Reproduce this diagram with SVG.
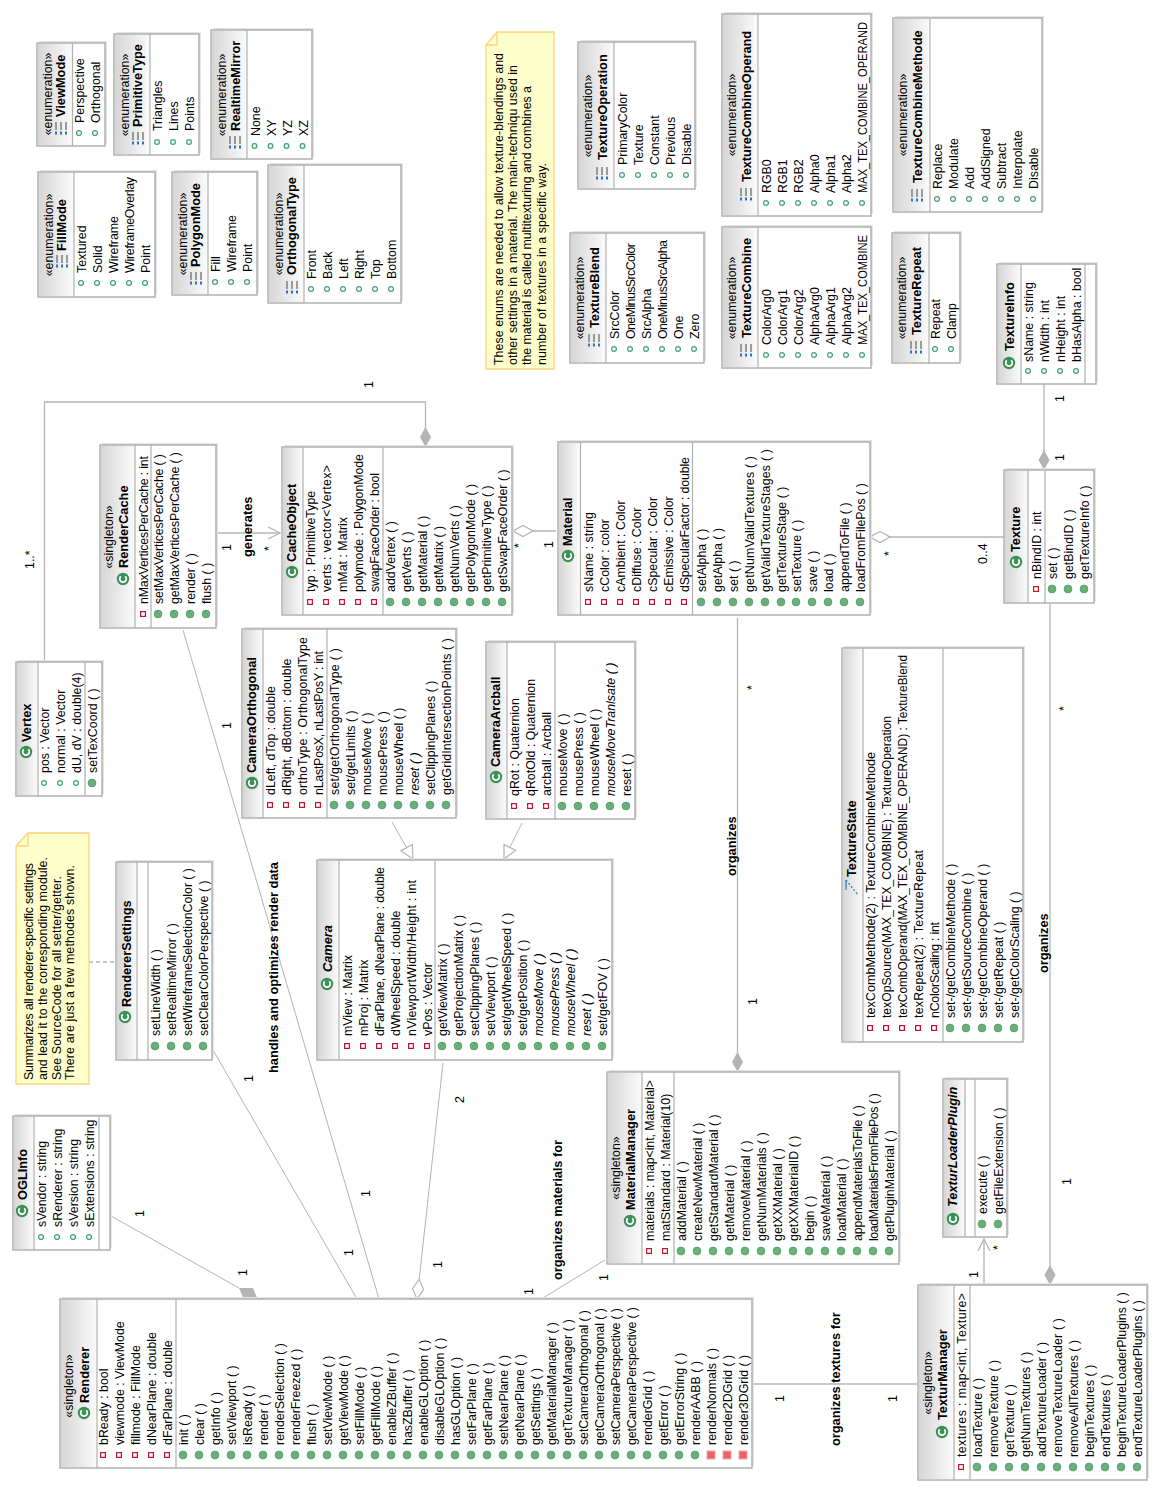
<svg xmlns="http://www.w3.org/2000/svg" width="1160" height="1491" viewBox="0 0 1160 1491">
<style>
text{font-family:"Liberation Sans",Arial,sans-serif;font-size:12.4px;fill:#000}
.b{font-weight:bold;font-size:12.8px}
.bi{font-weight:bold;font-style:italic;font-size:12.8px}
.i{font-style:italic}
.mid{text-anchor:middle}
.sh{fill:#e4e4e4}
.bx{fill:#fff;stroke:#b0b0b0;stroke-width:1.5}
.hd{fill:url(#hg)}
.dv{stroke:#b0b0b0;stroke-width:1.2;fill:none}
.c{fill:none;stroke:#b4b4b4;stroke-width:1.3}
.d{stroke-width:1}
.fd{marker-end:url(#dF)}
.hl{marker-end:url(#dH)}
.ar{marker-end:url(#aO)}
.tr{marker-end:url(#tH)}
.dash{stroke-dasharray:4 3}
.nt{fill:#ffffcc;stroke:#fdd27a;stroke-width:1.3}
.nf{fill:none;stroke:#fdd27a;stroke-width:1.3}
</style>
<defs>
<linearGradient id="hg" x1="0" y1="0" x2="0" y2="1"><stop offset="0" stop-color="#d6d6d6"/><stop offset="1" stop-color="#fbfbfb"/></linearGradient>
<marker id="dF" markerUnits="userSpaceOnUse" markerWidth="22" markerHeight="13" viewBox="0 0 22 13" refX="21" refY="6.5" orient="auto"><path d="M1 6.5L11 1L21 6.5L11 12Z" fill="#b4b4b4"/></marker>
<marker id="dH" markerUnits="userSpaceOnUse" markerWidth="22" markerHeight="13" viewBox="0 0 22 13" refX="21" refY="6.5" orient="auto"><path d="M1 6.5L11 1L21 6.5L11 12Z" fill="#fff" stroke="#b4b4b4" stroke-width="1.2"/></marker>
<marker id="aO" markerUnits="userSpaceOnUse" markerWidth="15" markerHeight="15" viewBox="0 0 15 15" refX="14" refY="7.5" orient="auto"><path d="M2 1.5L14 7.5L2 13.5" fill="none" stroke="#b4b4b4" stroke-width="1.3"/></marker>
<marker id="tH" markerUnits="userSpaceOnUse" markerWidth="15" markerHeight="17" viewBox="0 0 15 17" refX="14" refY="8.5" orient="auto"><path d="M1 2L14 8.5L1 15Z" fill="#fff" stroke="#b4b4b4" stroke-width="1.2"/></marker>
<g id="C"><circle r="6.2" fill="#3c9055"/><path d="M2.6-2.2A3.3 3.3 0 1 0 2.6 2.2" fill="none" stroke="#fff" stroke-width="1.7"/></g>
<circle id="m" r="3.9" fill="#6bae7a" stroke="#4f9c66" stroke-width=".8"/>
<circle id="p" r="2.4" fill="#fff" stroke="#3fa56e" stroke-width="1.2"/>
<rect id="f" x="-2.4" y="-2.4" width="4.8" height="4.8" fill="#fff" stroke="#c4122f" stroke-width="1.2"/>
<rect id="r" x="-4" y="-4" width="8" height="8" fill="#e8646c" stroke="#f2a4a8"/>
<g id="E" fill="none"><path d="M6-5H-2M6 0H-2M6 5H-2" stroke="#777" stroke-width="1.4"/><path d="M-3.500-5H-6.500M-3.500 0H-6.500M-3.500 5H-6.500" stroke="#2f74bd" stroke-width="2"/></g>
</defs>

<g id="connectors">
<polyline class="c fd" points="44.5,662 44.5,402 425.5,402 425.5,447"/>
<line class="c ar" x1="216" y1="533" x2="280" y2="533"/>
<line class="c hl" x1="556" y1="531" x2="513" y2="531"/>
<line class="c hl" x1="1004" y1="537" x2="870" y2="537"/>
<line class="c fd" x1="1044" y1="384" x2="1044" y2="470"/>
<line class="c fd" x1="1050" y1="604" x2="1050" y2="1285"/>
<line class="c fd" x1="737.5" y1="618" x2="737.5" y2="1072"/>
<line class="c d" x1="183" y1="630" x2="379" y2="1299"/>
<line class="c d" x1="213" y1="1050" x2="357" y2="1299"/>
<line class="c d" x1="111" y1="1216" x2="239" y2="1288"/>
<polygon points="239,1288 253,1288 258,1300 244,1300" fill="#b4b4b4"/>
<line class="c d hl" x1="443" y1="1063" x2="417" y2="1299"/>
<line class="c d" x1="605" y1="1260" x2="543" y2="1298"/>
<line class="c" x1="752" y1="1384" x2="917" y2="1384"/>
<line class="c ar" x1="984" y1="1285" x2="984" y2="1239"/>
<line class="c d tr" x1="392" y1="822" x2="413" y2="859"/>
<line class="c d tr" x1="522" y1="823" x2="504" y2="859"/>
<line class="c dash" x1="89" y1="962" x2="115" y2="962"/>
<text transform="translate(373 388) rotate(-90)">1</text>
<text transform="translate(34 569) rotate(-90)">1..*</text>
<text transform="translate(231 551) rotate(-90)">1</text>
<text class="b" transform="translate(252 557) rotate(-90)">generates</text>
<text transform="translate(273 551) rotate(-90)">*</text>
<text transform="translate(523 548) rotate(-90)">*</text>
<text transform="translate(553 548) rotate(-90)">1</text>
<text transform="translate(893 556) rotate(-90)">*</text>
<text transform="translate(987 564) rotate(-90)">0..4</text>
<text transform="translate(1064 402) rotate(-90)">1</text>
<text transform="translate(1064 461) rotate(-90)">1</text>
<text transform="translate(1068 711) rotate(-90)">*</text>
<text class="b" transform="translate(1048 973) rotate(-90)">organizes</text>
<text transform="translate(1071 1185) rotate(-90)">1</text>
<text transform="translate(756 690) rotate(-90)">*</text>
<text transform="translate(757 1005) rotate(-90)">1</text>
<text class="b" transform="translate(736 876) rotate(-90)">organizes</text>
<text transform="translate(231 729) rotate(-90)">1</text>
<text transform="translate(353 1256) rotate(-90)">1</text>
<text transform="translate(370 1197) rotate(-90)">1</text>
<text transform="translate(253 1082) rotate(-90)">1</text>
<text class="b" transform="translate(278 1073) rotate(-90)" textLength="211">handles and optimizes render data</text>
<text transform="translate(144 1217) rotate(-90)">1</text>
<text transform="translate(247 1276) rotate(-90)">1</text>
<text transform="translate(464 1103) rotate(-90)">2</text>
<text transform="translate(442 1268) rotate(-90)">1</text>
<text transform="translate(533 1295) rotate(-90)">1</text>
<text transform="translate(608 1281) rotate(-90)">1</text>
<text class="b" transform="translate(562 1280) rotate(-90)">organizes materials for</text>
<text transform="translate(784 1402) rotate(-90)">1</text>
<text transform="translate(897 1402) rotate(-90)">1</text>
<text class="b" transform="translate(840 1446) rotate(-90)">organizes textures for</text>
<text transform="translate(1002 1250) rotate(-90)">*</text>
<text transform="translate(978 1278) rotate(-90)">1</text>
</g>

<g id="ViewMode" transform="translate(37 146) rotate(-90)">
<rect class="sh" x="2" y="2" width="103" height="68"/><rect class="bx" width="103" height="68"/><rect class="hd" x="1" y="1" width="101" height="35"/><path class="dv" d="M0 35.5H103"/>
<text class="mid" x="52" y="15">«enumeration»</text><use href="#E" x="18" y="24"/><text class="b" x="29" y="28">ViewMode</text>
<use href="#p" x="13" y="42"/><text x="23" y="47">Perspective</text>
<use href="#p" x="13" y="58"/><text x="23" y="63">Orthogonal</text>
</g>
<g id="PrimitiveType" transform="translate(114 155) rotate(-90)">
<rect class="sh" x="2" y="2" width="121" height="85"/><rect class="bx" width="121" height="85"/><rect class="hd" x="1" y="1" width="119" height="35"/><path class="dv" d="M0 36H121"/>
<text class="mid" x="60" y="15">«enumeration»</text><use href="#E" x="17" y="24"/><text class="b" x="28" y="28">PrimitiveType</text>
<use href="#p" x="13" y="43"/><text x="24" y="48">Triangles</text>
<use href="#p" x="13" y="59"/><text x="24" y="64">Lines</text>
<use href="#p" x="13" y="75"/><text x="24" y="80">Points</text>
</g>
<g id="RealtimeMirror" transform="translate(211 159) rotate(-90)">
<rect class="sh" x="2" y="2" width="129" height="101"/><rect class="bx" width="129" height="101"/><rect class="hd" x="1" y="1" width="127" height="35"/><path class="dv" d="M0 36H129"/>
<text class="mid" x="64" y="15">«enumeration»</text><use href="#E" x="17" y="24"/><text class="b" x="28" y="29">RealtimeMirror</text>
<use href="#p" x="13" y="43.5"/><text x="23" y="48.5">None</text>
<use href="#p" x="13" y="59.5"/><text x="23" y="64.5">XY</text>
<use href="#p" x="13" y="75.5"/><text x="23" y="80.5">YZ</text>
<use href="#p" x="13" y="91.5"/><text x="23" y="96.5">XZ</text>
</g>
<g id="FillMode" transform="translate(38 297) rotate(-90)">
<rect class="sh" x="2" y="2" width="125" height="117"/><rect class="bx" width="125" height="117"/><rect class="hd" x="1" y="1" width="123" height="35"/><path class="dv" d="M0 36H125"/>
<text class="mid" x="62" y="15">«enumeration»</text><use href="#E" x="36" y="24"/><text class="b" x="46" y="28">FillMode</text>
<use href="#p" x="14" y="43"/><text x="24" y="48">Textured</text>
<use href="#p" x="14" y="59"/><text x="24" y="64">Solid</text>
<use href="#p" x="14" y="75"/><text x="24" y="80" textLength="57">Wireframe</text>
<use href="#p" x="14" y="91"/><text x="24" y="96" textLength="96">WireframeOverlay</text>
<use href="#p" x="14" y="107"/><text x="24" y="112">Point</text>
</g>
<g id="PolygonMode" transform="translate(172 295) rotate(-90)">
<rect class="sh" x="2" y="2" width="123" height="85"/><rect class="bx" width="123" height="85"/><rect class="hd" x="1" y="1" width="121" height="35"/><path class="dv" d="M0 36H123"/>
<text class="mid" x="61" y="15">«enumeration»</text><use href="#E" x="17" y="24"/><text class="b" x="28" y="28">PolygonMode</text>
<use href="#p" x="13" y="43"/><text x="23" y="48">Fill</text>
<use href="#p" x="13" y="59"/><text x="23" y="64" textLength="57">Wireframe</text>
<use href="#p" x="13" y="75"/><text x="23" y="80">Point</text>
</g>
<g id="OrthogonalType" transform="translate(268 303) rotate(-90)">
<rect class="sh" x="2" y="2" width="138" height="133"/><rect class="bx" width="138" height="133"/><rect class="hd" x="1" y="1" width="136" height="35"/><path class="dv" d="M0 36H138"/>
<text class="mid" x="69" y="15">«enumeration»</text><use href="#E" x="16" y="24"/><text class="b" x="28" y="28">OrthogonalType</text>
<use href="#p" x="14" y="43"/><text x="24" y="48">Front</text>
<use href="#p" x="14" y="59"/><text x="24" y="64">Back</text>
<use href="#p" x="14" y="75"/><text x="24" y="80">Left</text>
<use href="#p" x="14" y="91"/><text x="24" y="96">Right</text>
<use href="#p" x="14" y="107"/><text x="24" y="112">Top</text>
<use href="#p" x="14" y="123"/><text x="24" y="128">Bottom</text>
</g>

<g id="Note1" transform="translate(486 369) rotate(-90)">
<path class="nt" d="M0 0V68H337V11L324 0Z"/><path class="nf" d="M324 0V11H337"/>
<text x="4" y="16.500" textLength="312">These enums are needed to allow texture-blendings and</text>
<text x="4" y="31" textLength="300">other settings in a material. The main-techniqu used in</text>
<text x="4" y="45" textLength="279">the material is called multitexturing and combines a</text>
<text x="4" y="60" textLength="202">number of textures in a specific way.</text>
</g>
<g id="TextureOperation" transform="translate(578 189) rotate(-90)">
<rect class="sh" x="2" y="2" width="147" height="117"/><rect class="bx" width="147" height="117"/><rect class="hd" x="1" y="1" width="145" height="35"/><path class="dv" d="M0 36H147"/>
<text class="mid" x="73" y="14">«enumeration»</text><use href="#E" x="16" y="24"/><text class="b" x="29" y="29">TextureOperation</text>
<use href="#p" x="14" y="44"/><text x="24" y="49">PrimaryColor</text>
<use href="#p" x="14" y="60"/><text x="24" y="65">Texture</text>
<use href="#p" x="14" y="76"/><text x="24" y="81">Constant</text>
<use href="#p" x="14" y="92"/><text x="24" y="97">Previous</text>
<use href="#p" x="14" y="108"/><text x="24" y="113">Disable</text>
</g>
<g id="TextureBlend" transform="translate(570 363) rotate(-90)">
<rect class="sh" x="2" y="2" width="130" height="134"/><rect class="bx" width="130" height="134"/><rect class="hd" x="1" y="1" width="128" height="35"/><path class="dv" d="M0 36H130"/>
<text class="mid" x="65" y="14">«enumeration»</text><use href="#E" x="23" y="24"/><text class="b" x="35" y="29">TextureBlend</text>
<use href="#p" x="14" y="44"/><text x="24" y="49">SrcColor</text>
<use href="#p" x="14" y="60"/><text x="24" y="65" textLength="96">OneMinusSrcColor</text>
<use href="#p" x="14" y="76"/><text x="24" y="81">SrcAlpha</text>
<use href="#p" x="14" y="92"/><text x="24" y="97" textLength="99">OneMinusSrcAlpha</text>
<use href="#p" x="14" y="108"/><text x="24" y="113">One</text>
<use href="#p" x="14" y="124"/><text x="24" y="129">Zero</text>
</g>
<g id="TextureCombineOperand" transform="translate(722 216) rotate(-90)">
<rect class="sh" x="2" y="2" width="202" height="149"/><rect class="bx" width="202" height="149"/><rect class="hd" x="1" y="1" width="200" height="35"/><path class="dv" d="M0 36H202"/>
<text class="mid" x="101" y="14">«enumeration»</text><use href="#E" x="22" y="24"/><text class="b" x="34" y="29" textLength="151">TextureCombineOperand</text>
<use href="#p" x="13" y="44"/><text x="23" y="49">RGB0</text>
<use href="#p" x="13" y="60"/><text x="23" y="65">RGB1</text>
<use href="#p" x="13" y="76"/><text x="23" y="81">RGB2</text>
<use href="#p" x="13" y="92"/><text x="23" y="97">Alpha0</text>
<use href="#p" x="13" y="108"/><text x="23" y="113">Alpha1</text>
<use href="#p" x="13" y="124"/><text x="23" y="129">Alpha2</text>
<use href="#p" x="13" y="140"/><text x="23" y="145" textLength="171" lengthAdjust="spacingAndGlyphs">MAX_TEX_COMBINE_OPERAND</text>
</g>
<g id="TextureCombine" transform="translate(722 368) rotate(-90)">
<rect class="sh" x="2" y="2" width="141" height="149"/><rect class="bx" width="141" height="149"/><rect class="hd" x="1" y="1" width="139" height="35"/><path class="dv" d="M0 36H141"/>
<text class="mid" x="70" y="14">«enumeration»</text><use href="#E" x="18" y="24"/><text class="b" x="30" y="29">TextureCombine</text>
<use href="#p" x="13" y="44"/><text x="23" y="49">ColorArg0</text>
<use href="#p" x="13" y="60"/><text x="23" y="65">ColorArg1</text>
<use href="#p" x="13" y="76"/><text x="23" y="81">ColorArg2</text>
<use href="#p" x="13" y="92"/><text x="23" y="97">AlphaArg0</text>
<use href="#p" x="13" y="108"/><text x="23" y="113">AlphaArg1</text>
<use href="#p" x="13" y="124"/><text x="23" y="129">AlphaArg2</text>
<use href="#p" x="13" y="140"/><text x="23" y="145" textLength="110" lengthAdjust="spacingAndGlyphs">MAX_TEX_COMBINE</text>
</g>
<g id="TextureCombineMethode" transform="translate(893 212) rotate(-90)">
<rect class="sh" x="2" y="2" width="194" height="149"/><rect class="bx" width="194" height="149"/><rect class="hd" x="1" y="1" width="192" height="36"/><path class="dv" d="M0 37H194"/>
<text class="mid" x="97" y="14">«enumeration»</text><use href="#E" x="17" y="24"/><text class="b" x="29" y="29">TextureCombineMethode</text>
<use href="#p" x="13" y="44"/><text x="23" y="49">Replace</text>
<use href="#p" x="13" y="60"/><text x="23" y="65">Modulate</text>
<use href="#p" x="13" y="76"/><text x="23" y="81">Add</text>
<use href="#p" x="13" y="92"/><text x="23" y="97">AddSigned</text>
<use href="#p" x="13" y="108"/><text x="23" y="113">Subtract</text>
<use href="#p" x="13" y="124"/><text x="23" y="129">Interpolate</text>
<use href="#p" x="13" y="140"/><text x="23" y="145">Disable</text>
</g>
<g id="TextureRepeat" transform="translate(892 363) rotate(-90)">
<rect class="sh" x="2" y="2" width="130" height="68"/><rect class="bx" width="130" height="68"/><rect class="hd" x="1" y="1" width="128" height="36"/><path class="dv" d="M0 37H130"/>
<text class="mid" x="65" y="14">«enumeration»</text><use href="#E" x="16" y="24"/><text class="b" x="28" y="29">TextureRepeat</text>
<use href="#p" x="14" y="43"/><text x="24" y="48">Repeat</text>
<use href="#p" x="14" y="59"/><text x="24" y="64">Clamp</text>
</g>
<g id="TextureInfo" transform="translate(997 384) rotate(-90)">
<rect class="sh" x="2" y="2" width="120" height="99"/><rect class="bx" width="120" height="99"/><rect class="hd" x="1" y="1" width="118" height="23"/><path class="dv" d="M0 24H120M0 88H120"/>
<use href="#C" x="21" y="12"/><text class="b" x="33" y="17">TextureInfo</text>
<use href="#p" x="13" y="31"/><text x="22" y="36">sName : string</text>
<use href="#p" x="13" y="47"/><text x="22" y="52">nWidth : int</text>
<use href="#p" x="13" y="63"/><text x="22" y="68">nHeight : int</text>
<use href="#p" x="13" y="79"/><text x="22" y="84">bHasAlpha : bool</text>
</g>
<g id="Texture" transform="translate(1004 603) rotate(-90)">
<rect class="sh" x="2" y="2" width="133" height="90"/><rect class="bx" width="133" height="90"/><rect class="hd" x="1" y="1" width="131" height="23"/><path class="dv" d="M0 24H133M0 41H133"/>
<use href="#C" x="41" y="12"/><text class="b" x="51" y="16">Texture</text>
<use href="#f" x="14" y="32"/><text x="24" y="37">nBindID : int</text>
<use href="#m" x="14" y="48"/><text x="24" y="53">set ( )</text>
<use href="#m" x="14" y="64"/><text x="24" y="69">getBindID ( )</text>
<use href="#m" x="14" y="80"/><text x="24" y="85">getTextureInfo ( )</text>
</g>
<g id="Material" transform="translate(558 615) rotate(-90)">
<rect class="sh" x="2" y="2" width="173" height="312"/><rect class="bx" width="173" height="312"/><rect class="hd" x="1" y="1" width="171" height="21"/><path class="dv" d="M0 22.500H173M0 134.500H173"/>
<use href="#C" x="59" y="10"/><text class="b" x="69" y="14">Material</text>
<use href="#f" x="13" y="30"/><text x="23" y="35">sName : string</text>
<use href="#f" x="13" y="46"/><text x="23" y="51">cColor : color</text>
<use href="#f" x="13" y="62"/><text x="23" y="67">cAmbient : Color</text>
<use href="#f" x="13" y="78"/><text x="23" y="83">cDiffuse : Color</text>
<use href="#f" x="13" y="94"/><text x="23" y="99">cSpecular : Color</text>
<use href="#f" x="13" y="110"/><text x="23" y="115">cEmissive : Color</text>
<use href="#f" x="13" y="126"/><text x="23" y="131" textLength="135">dSpecularFactor : double</text>
<use href="#m" x="13" y="143"/><text x="23" y="148">setAlpha ( )</text>
<use href="#m" x="13" y="159"/><text x="23" y="164">getAlpha ( )</text>
<use href="#m" x="13" y="175"/><text x="23" y="180">set ( )</text>
<use href="#m" x="13" y="191"/><text x="23" y="196" textLength="136">getNumValidTextures ( )</text>
<use href="#m" x="13" y="207"/><text x="23" y="212" textLength="143">getValidTextureStages ( )</text>
<use href="#m" x="13" y="223"/><text x="23" y="228">getTextureStage ( )</text>
<use href="#m" x="13" y="238"/><text x="23" y="243">setTexture ( )</text>
<use href="#m" x="13" y="254"/><text x="23" y="259">save ( )</text>
<use href="#m" x="13" y="270"/><text x="23" y="275">load ( )</text>
<use href="#m" x="13" y="286"/><text x="23" y="291">appendToFile ( )</text>
<use href="#m" x="13" y="302"/><text x="23" y="307">loadFromFilePos ( )</text>
</g>
<g id="CacheObject" transform="translate(282 615) rotate(-90)">
<rect class="sh" x="2" y="2" width="168" height="230"/><rect class="bx" width="168" height="230"/><rect class="hd" x="1" y="1" width="166" height="20"/><path class="dv" d="M0 21H168M0 101H168"/>
<use href="#C" x="43" y="10"/><text class="b" x="53" y="14">CacheObject</text>
<use href="#f" x="13" y="28"/><text x="23" y="33">typ : PrimitiveType</text>
<use href="#f" x="13" y="44"/><text x="23" y="49" textLength="127">verts : vector&lt;Vertex&gt;</text>
<use href="#f" x="13" y="60"/><text x="23" y="65">mMat : Matrix</text>
<use href="#f" x="13" y="76"/><text x="23" y="81" textLength="138">polymode : PolygonMode</text>
<use href="#f" x="13" y="92"/><text x="23" y="97" textLength="119">swapFaceOrder : bool</text>
<use href="#m" x="13" y="108"/><text x="23" y="113">addVertex ( )</text>
<use href="#m" x="13" y="124"/><text x="23" y="129">getVerts ( )</text>
<use href="#m" x="13" y="140"/><text x="23" y="145">getMaterial ( )</text>
<use href="#m" x="13" y="156"/><text x="23" y="161">getMatrix ( )</text>
<use href="#m" x="13" y="172"/><text x="23" y="177">getNumVerts ( )</text>
<use href="#m" x="13" y="188"/><text x="23" y="193">getPolygonMode ( )</text>
<use href="#m" x="13" y="204"/><text x="23" y="209">getPrimitiveType ( )</text>
<use href="#m" x="13" y="220"/><text x="23" y="225">getSwapFaceOrder ( )</text>
</g>
<g id="RenderCache" transform="translate(100 628) rotate(-90)">
<rect class="sh" x="2" y="2" width="183" height="116"/><rect class="bx" width="183" height="116"/><rect class="hd" x="1" y="1" width="181" height="34"/><path class="dv" d="M0 35H183M0 51H183"/>
<text class="mid" x="91" y="13">«singleton»</text><use href="#C" x="49" y="23"/><text class="b" x="60" y="28">RenderCache</text>
<use href="#f" x="14" y="43"/><text x="24" y="48" textLength="148">nMaxVerticesPerCache : int</text>
<use href="#m" x="14" y="58"/><text x="24" y="63" textLength="150">setMaxVerticesPerCache ( )</text>
<use href="#m" x="14" y="74"/><text x="24" y="79" textLength="152">getMaxVerticesPerCache ( )</text>
<use href="#m" x="14" y="90"/><text x="24" y="95">render ( )</text>
<use href="#m" x="14" y="106"/><text x="24" y="111">flush ( )</text>
</g>
<g id="Vertex" transform="translate(16 796) rotate(-90)">
<rect class="sh" x="2" y="2" width="134" height="86"/><rect class="bx" width="134" height="86"/><rect class="hd" x="1" y="1" width="132" height="21"/><path class="dv" d="M0 22H134M0 69H134"/>
<use href="#C" x="44" y="10"/><text class="b" x="54" y="15">Vertex</text>
<use href="#p" x="13" y="28"/><text x="23" y="33">pos : Vector</text>
<use href="#p" x="13" y="44"/><text x="23" y="49">normal : Vector</text>
<use href="#p" x="13" y="60"/><text x="23" y="65">dU, dV : double(4)</text>
<use href="#m" x="13" y="76"/><text x="23" y="81">setTexCoord ( )</text>
</g>
<g id="CameraOrthogonal" transform="translate(242 818) rotate(-90)">
<rect class="sh" x="2" y="2" width="189" height="214"/><rect class="bx" width="189" height="214"/><rect class="hd" x="1" y="1" width="187" height="20"/><path class="dv" d="M0 21H189M0 85H189"/>
<use href="#C" x="35" y="10"/><text class="b" x="45" y="14">CameraOrthogonal</text>
<use href="#f" x="13" y="28"/><text x="23" y="33">dLeft, dTop : double</text>
<use href="#f" x="13" y="44"/><text x="23" y="49">dRight, dBottom : double</text>
<use href="#f" x="13" y="60"/><text x="23" y="65" textLength="158">orthoType : OrthogonalType</text>
<use href="#f" x="13" y="76"/><text x="23" y="81" textLength="144">nLastPosX, nLastPosY : int</text>
<use href="#m" x="13" y="92"/><text x="23" y="97" textLength="147">set/getOrthogonalType ( )</text>
<use href="#m" x="13" y="108"/><text x="23" y="113">set/getLimits ( )</text>
<use href="#m" x="13" y="124"/><text x="23" y="129">mouseMove ( )</text>
<use href="#m" x="13" y="140"/><text x="23" y="145">mousePress ( )</text>
<use href="#m" x="13" y="156"/><text x="23" y="161">mouseWheel ( )</text>
<use href="#m" x="13" y="172"/><text class="i" x="23" y="177">reset ( )</text>
<use href="#m" x="13" y="188"/><text x="23" y="193">setClippingPlanes ( )</text>
<use href="#m" x="13" y="204"/><text x="23" y="209" textLength="157">getGridIntersectionPoints ( )</text>
</g>
<g id="CameraArcball" transform="translate(486 819) rotate(-90)">
<rect class="sh" x="2" y="2" width="177" height="149"/><rect class="bx" width="177" height="149"/><rect class="hd" x="1" y="1" width="175" height="20"/><path class="dv" d="M0 21H177M0 69H177"/>
<use href="#C" x="42" y="10"/><text class="b" x="52" y="14">CameraArcball</text>
<use href="#f" x="13" y="28"/><text x="23" y="33">qRot : Quaternion</text>
<use href="#f" x="13" y="44"/><text x="23" y="49">qRotOld : Quaternion</text>
<use href="#f" x="13" y="60"/><text x="23" y="65">arcball : Arcball</text>
<use href="#m" x="13" y="76"/><text x="23" y="81">mouseMove ( )</text>
<use href="#m" x="13" y="92"/><text x="23" y="97">mousePress ( )</text>
<use href="#m" x="13" y="108"/><text x="23" y="113">mouseWheel ( )</text>
<use href="#m" x="13" y="124"/><text class="i" x="23" y="129">mouseMoveTranlsate ( )</text>
<use href="#m" x="13" y="140"/><text x="23" y="145">reset ( )</text>
</g>
<g id="RendererSettings" transform="translate(116 1060) rotate(-90)">
<rect class="sh" x="2" y="2" width="198" height="96"/><rect class="bx" width="198" height="96"/><rect class="hd" x="1" y="1" width="196" height="20"/><path class="dv" d="M0 21H198M0 32H198"/>
<use href="#C" x="43" y="9"/><text class="b" x="53" y="15">RendererSettings</text>
<use href="#m" x="14" y="39"/><text x="24" y="44">setLineWidth ( )</text>
<use href="#m" x="14" y="55"/><text x="24" y="60">setRealtimeMirror ( )</text>
<use href="#m" x="14" y="71"/><text x="24" y="76" textLength="168">setWireframeSelectionColor ( )</text>
<use href="#m" x="14" y="87"/><text x="24" y="92">setClearColorPerspective ( )</text>
</g>
<g id="Note2" transform="translate(16 1084) rotate(-90)">
<path class="nt" d="M0 0V73H251V12L238 0Z"/><path class="nf" d="M238 0V12H251"/>
<text x="4" y="17" textLength="217">Summarizes all renderer-specific settings</text>
<text x="4" y="31" textLength="223">and lead it to the corresponding module.</text>
<text x="4" y="45" textLength="204">See SourceCode for all setter/getter.</text>
<text x="4" y="58" textLength="215">There are just a few methodes shown.</text>
</g>
<g id="OGLInfo" transform="translate(13 1250) rotate(-90)">
<rect class="sh" x="2" y="2" width="134" height="97"/><rect class="bx" width="134" height="97"/><rect class="hd" x="1" y="1" width="132" height="20"/><path class="dv" d="M0 21H134M0 86H134"/>
<use href="#C" x="39" y="9"/><text class="b" x="50" y="14">OGLInfo</text>
<use href="#p" x="13" y="28"/><text x="23" y="33">sVendor : string</text>
<use href="#p" x="13" y="44"/><text x="23" y="49">sRenderer : string</text>
<use href="#p" x="13" y="60"/><text x="23" y="65">sVersion : string</text>
<use href="#p" x="13" y="76"/><text x="23" y="81">sExtensions : string</text>
</g>
<g id="Camera" transform="translate(317 1060) rotate(-90)">
<rect class="sh" x="2" y="2" width="200" height="295"/><rect class="bx" width="200" height="295"/><rect class="hd" x="1" y="1" width="198" height="21"/><path class="dv" d="M0 22H200M0 118H200"/>
<use href="#C" x="76" y="10"/><text class="bi" x="88" y="15">Camera</text>
<use href="#f" x="14" y="30"/><text x="24" y="35">mView : Matrix</text>
<use href="#f" x="14" y="46"/><text x="24" y="51">mProj : Matrix</text>
<use href="#f" x="14" y="62"/><text x="24" y="67" textLength="169">dFarPlane, dNearPlane : double</text>
<use href="#f" x="14" y="78"/><text x="24" y="83">dWheelSpeed : double</text>
<use href="#f" x="14" y="94"/><text x="24" y="99" textLength="156">nViewportWidth/Height : int</text>
<use href="#f" x="14" y="110"/><text x="24" y="115">vPos : Vector</text>
<use href="#m" x="14" y="125"/><text x="24" y="130">getViewMatrix ( )</text>
<use href="#m" x="14" y="141"/><text x="24" y="146">getProjectionMatrix ( )</text>
<use href="#m" x="14" y="157"/><text x="24" y="162">setClippingPlanes ( )</text>
<use href="#m" x="14" y="173"/><text x="24" y="178">setViewport ( )</text>
<use href="#m" x="14" y="189"/><text x="24" y="194">set/getWheelSpeed ( )</text>
<use href="#m" x="14" y="205"/><text x="24" y="210">set/getPosition ( )</text>
<use href="#m" x="14" y="221"/><text class="i" x="24" y="226">mouseMove ( )</text>
<use href="#m" x="14" y="237"/><text class="i" x="24" y="242">mousePress ( )</text>
<use href="#m" x="14" y="253"/><text class="i" x="24" y="258">mouseWheel ( )</text>
<use href="#m" x="14" y="269"/><text class="i" x="24" y="274">reset ( )</text>
<use href="#m" x="14" y="285"/><text x="24" y="290">set/getFOV ( )</text>
</g>
<g id="TextureState" transform="translate(842 1042) rotate(-90)">
<rect class="sh" x="2" y="2" width="394" height="181"/><rect class="bx" width="394" height="181"/><rect class="hd" x="1" y="1" width="392" height="20"/><path class="dv" d="M0 21H394M0 101H394"/>
<path d="M162 4H152" stroke="#6f9fd0" stroke-width="2" fill="none"/><path d="M162 4L147 16" stroke="#3a78b8" stroke-width="1.2" stroke-dasharray="2 2" fill="none"/><text class="b" x="165" y="14">TextureState</text>
<use href="#f" x="14" y="28"/><text x="24" y="33" textLength="266" lengthAdjust="spacingAndGlyphs">texCombMethode(2) : TextureCombineMethode</text>
<use href="#f" x="14" y="44"/><text x="24" y="49" textLength="302" lengthAdjust="spacingAndGlyphs">texOpSource(MAX_TEX_COMBINE) : TextureOperation</text>
<use href="#f" x="14" y="60"/><text x="24" y="65" textLength="363" lengthAdjust="spacingAndGlyphs">texCombOperand(MAX_TEX_COMBINE_OPERAND) : TextureBlend</text>
<use href="#f" x="14" y="76"/><text x="24" y="81" textLength="168">texRepeat(2) : TextureRepeat</text>
<use href="#f" x="14" y="92"/><text x="24" y="97" textLength="96">nColorScaling : int</text>
<use href="#m" x="14" y="108"/><text x="24" y="113">set-/getCombineMethode ( )</text>
<use href="#m" x="14" y="124"/><text x="24" y="129">set-/getSourceCombine ( )</text>
<use href="#m" x="14" y="140"/><text x="24" y="145">set-/getCombineOperand ( )</text>
<use href="#m" x="14" y="156"/><text x="24" y="161">set-/getRepeat ( )</text>
<use href="#m" x="14" y="172"/><text x="24" y="177">set-/getColorScaling ( )</text>
</g>
<g id="MaterialManager" transform="translate(607 1264) rotate(-90)">
<rect class="sh" x="2" y="2" width="192" height="292"/><rect class="bx" width="192" height="292"/><rect class="hd" x="1" y="1" width="190" height="34"/><path class="dv" d="M0 35H192M0 67H192"/>
<text class="mid" x="96" y="13">«singleton»</text><use href="#C" x="43" y="23"/><text class="b" x="54" y="28">MaterialManager</text>
<use href="#f" x="13" y="42"/><text x="23" y="47" textLength="161">materials : map&lt;int, Material&gt;</text>
<use href="#f" x="13" y="58"/><text x="23" y="63">matStandard : Material(10)</text>
<use href="#m" x="13" y="74"/><text x="23" y="79">addMaterial ( )</text>
<use href="#m" x="13" y="90"/><text x="23" y="95">createNewMaterial ( )</text>
<use href="#m" x="13" y="106"/><text x="23" y="111">getStandardMaterial ( )</text>
<use href="#m" x="13" y="122"/><text x="23" y="127">getMaterial ( )</text>
<use href="#m" x="13" y="138"/><text x="23" y="143">removeMaterial ( )</text>
<use href="#m" x="13" y="154"/><text x="23" y="159">getNumMaterials ( )</text>
<use href="#m" x="13" y="170"/><text x="23" y="175">getXXMaterial ( )</text>
<use href="#m" x="13" y="186"/><text x="23" y="191">getXXMaterialID ( )</text>
<use href="#m" x="13" y="202"/><text x="23" y="207">begin ( )</text>
<use href="#m" x="13" y="218"/><text x="23" y="223">saveMaterial ( )</text>
<use href="#m" x="13" y="234"/><text x="23" y="239">loadMaterial ( )</text>
<use href="#m" x="13" y="250"/><text x="23" y="255" textLength="136">appendMaterialsToFile ( )</text>
<use href="#m" x="13" y="266"/><text x="23" y="271" textLength="148">loadMaterialsFromFilePos ( )</text>
<use href="#m" x="13" y="282"/><text x="23" y="287">getPluginMaterial ( )</text>
</g>
<g id="TexturLoaderPlugin" transform="translate(943 1237) rotate(-90)">
<rect class="sh" x="2" y="2" width="158" height="64"/><rect class="bx" width="158" height="64"/><rect class="hd" x="1" y="1" width="156" height="21"/><path class="dv" d="M0 22H158M0 32H158"/>
<use href="#C" x="18" y="10"/><text class="bi" x="30" y="14">TexturLoaderPlugin</text>
<use href="#m" x="13" y="39"/><text x="23" y="44">execute ( )</text>
<use href="#m" x="13" y="55"/><text x="23" y="60">getFileExtension ( )</text>
</g>
<g id="TexturManager" transform="translate(918 1480) rotate(-90)">
<rect class="sh" x="2" y="2" width="195" height="229"/><rect class="bx" width="195" height="229"/><rect class="hd" x="1" y="1" width="193" height="35"/><path class="dv" d="M0 36H195M0 52H195"/>
<text class="mid" x="97" y="14">«singleton»</text><use href="#C" x="48" y="24"/><text class="b" x="60" y="29">TexturManager</text>
<use href="#f" x="13" y="43"/><text x="23" y="48" textLength="164">textures : map&lt;int, Texture&gt;</text>
<use href="#m" x="13" y="59"/><text x="23" y="64">loadTexture ( )</text>
<use href="#m" x="13" y="75"/><text x="23" y="80">removeTexture ( )</text>
<use href="#m" x="13" y="91"/><text x="23" y="96">getTexture ( )</text>
<use href="#m" x="13" y="107"/><text x="23" y="112">getNumTextures ( )</text>
<use href="#m" x="13" y="123"/><text x="23" y="128">addTextureLoader ( )</text>
<use href="#m" x="13" y="139"/><text x="23" y="144" textLength="139">removeTextureLoader ( )</text>
<use href="#m" x="13" y="155"/><text x="23" y="160">removeAllTextures ( )</text>
<use href="#m" x="13" y="171"/><text x="23" y="176">beginTextures ( )</text>
<use href="#m" x="13" y="187"/><text x="23" y="192">endTextures ( )</text>
<use href="#m" x="13" y="203"/><text x="23" y="208" textLength="165">beginTextureLoaderPlugins ( )</text>
<use href="#m" x="13" y="219"/><text x="23" y="224" textLength="157">endTextureLoaderPlugins ( )</text>
</g>
<g id="Renderer" transform="translate(60 1468) rotate(-90)">
<rect class="sh" x="2" y="2" width="169" height="692"/><rect class="bx" width="169" height="692"/><rect class="hd" x="1" y="1" width="167" height="36"/><path class="dv" d="M0 37H169M0 116H169"/>
<text class="mid" x="82" y="13">«singleton»</text><use href="#C" x="55" y="24"/><text class="b" x="65" y="29">Renderer</text>
<use href="#f" x="13" y="43"/><text x="23" y="48">bReady : bool</text>
<use href="#f" x="13" y="59"/><text x="23" y="64">viewmode : ViewMode</text>
<use href="#f" x="13" y="75"/><text x="23" y="80">fillmode : FillMode</text>
<use href="#f" x="13" y="91"/><text x="23" y="96">dNearPlane : double</text>
<use href="#f" x="13" y="107"/><text x="23" y="112">dFarPlane : double</text>
<use href="#m" x="13" y="123"/><text x="23" y="128">init ( )</text>
<use href="#m" x="13" y="139"/><text x="23" y="144">clear ( )</text>
<use href="#m" x="13" y="155"/><text x="23" y="160">getInfo ( )</text>
<use href="#m" x="13" y="171"/><text x="23" y="176">setViewport ( )</text>
<use href="#m" x="13" y="187"/><text x="23" y="192">isReady ( )</text>
<use href="#m" x="13" y="203"/><text x="23" y="208">render ( )</text>
<use href="#m" x="13" y="219"/><text x="23" y="224">renderSelection ( )</text>
<use href="#m" x="13" y="235"/><text x="23" y="240">renderFreezed ( )</text>
<use href="#m" x="13" y="251"/><text x="23" y="256">flush ( )</text>
<use href="#m" x="13" y="267"/><text x="23" y="272">setViewMode ( )</text>
<use href="#m" x="13" y="283"/><text x="23" y="288">getViewMode ( )</text>
<use href="#m" x="13" y="299"/><text x="23" y="304">setFillMode ( )</text>
<use href="#m" x="13" y="315"/><text x="23" y="320">getFillMode ( )</text>
<use href="#m" x="13" y="331"/><text x="23" y="336">enableZBuffer ( )</text>
<use href="#m" x="13" y="347"/><text x="23" y="352">hasZBuffer ( )</text>
<use href="#m" x="13" y="363"/><text x="23" y="368">enableGLOption ( )</text>
<use href="#m" x="13" y="379"/><text x="23" y="384">disableGLOption ( )</text>
<use href="#m" x="13" y="395"/><text x="23" y="400">hasGLOption ( )</text>
<use href="#m" x="13" y="411"/><text x="23" y="416">setFarPlane ( )</text>
<use href="#m" x="13" y="427"/><text x="23" y="432">getFarPlane ( )</text>
<use href="#m" x="13" y="443"/><text x="23" y="448">setNearPlane ( )</text>
<use href="#m" x="13" y="459"/><text x="23" y="464">getNearPlane ( )</text>
<use href="#m" x="13" y="475"/><text x="23" y="480">getSettings ( )</text>
<use href="#m" x="13" y="491"/><text x="23" y="496" textLength="123">getMaterialManager ( )</text>
<use href="#m" x="13" y="507"/><text x="23" y="512" textLength="126">getTextureManager ( )</text>
<use href="#m" x="13" y="523"/><text x="23" y="528" textLength="135">setCameraOrthogonal ( )</text>
<use href="#m" x="13" y="539"/><text x="23" y="544" textLength="137">getCameraOrthogonal ( )</text>
<use href="#m" x="13" y="555"/><text x="23" y="560" textLength="137">setCameraPerspective ( )</text>
<use href="#m" x="13" y="571"/><text x="23" y="576" textLength="138">getCameraPerspective ( )</text>
<use href="#m" x="13" y="587"/><text x="23" y="592">renderGrid ( )</text>
<use href="#m" x="13" y="603"/><text x="23" y="608">getError ( )</text>
<use href="#m" x="13" y="619"/><text x="23" y="624">getErrorString ( )</text>
<use href="#m" x="13" y="635"/><text x="23" y="640">renderAABB ( )</text>
<use href="#r" x="13" y="651"/><text x="23" y="656">renderNormals ( )</text>
<use href="#r" x="13" y="667"/><text x="23" y="672">render2DGrid ( )</text>
<use href="#r" x="13" y="683"/><text x="23" y="688">render3DGrid ( )</text>
</g>
</svg>
